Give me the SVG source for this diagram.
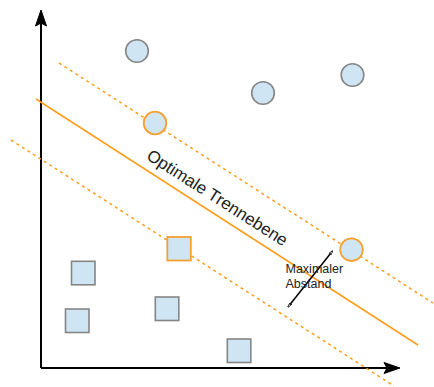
<svg xmlns="http://www.w3.org/2000/svg" width="434" height="387" viewBox="0 0 434 387">
  <defs>
    <style>
      .pt { fill: #cfe5f4; stroke: #858585; stroke-width: 1.6; }
      .sv { fill: #cfe5f4; stroke: #f5a030; stroke-width: 1.8; }
      .margin { fill: none; stroke: #ff9d1c; stroke-width: 1.5; stroke-dasharray: 3 3.5; }
      .plane { fill: none; stroke: #ff9d1c; stroke-width: 1.5; }
      .axis { fill: none; stroke: #000; stroke-width: 2; }
      .lbl { font-family: "Liberation Sans", Arial, sans-serif; fill: #222; }
    </style>
    <marker id="tick" viewBox="0 0 10 6" refX="9" refY="3" markerWidth="5" markerHeight="3" orient="auto-start-reverse" markerUnits="userSpaceOnUse">
      <path d="M0,0 L10,3 L0,6 L3,3 Z" fill="#fff" stroke="#000" stroke-width="1.2"/>
    </marker>
  </defs>

  <!-- axes -->
  <g id="axes">
    <path class="axis" d="M41,368 L41,22"/>
    <path d="M41,10 L35.5,26 L41,23 L46.5,26 Z" fill="#000" stroke="#000" stroke-width="1"/>
    <path class="axis" d="M41,368 L388,368"/>
    <path d="M400,368 L384,362.5 L387,368 L384,373.5 Z" fill="#000" stroke="#000" stroke-width="1"/>
  </g>

  <!-- connectors: separating plane, margins and distance arrow -->
  <g id="connectors">
    <path class="margin" d="M59,63 L433,303"/>
    <path class="plane" d="M36,99 L418,345"/>
    <path class="margin" d="M11,140 L394,386"/>
    <path d="M288,307 L332.5,251" fill="none" stroke="#000" stroke-width="1.5" marker-start="url(#tick)" marker-end="url(#tick)"/>
  </g>

  <!-- class A: circles -->
  <g id="circle-1"><circle class="pt" cx="137" cy="51" r="11.3"/></g>
  <g id="circle-2"><circle class="pt" cx="263" cy="93" r="11.3"/></g>
  <g id="circle-3"><circle class="pt" cx="352.5" cy="75" r="11.3"/></g>
  <g id="circle-sv-1"><circle class="sv" cx="155" cy="123" r="11.3"/></g>
  <g id="circle-sv-2"><circle class="sv" cx="351.5" cy="249.7" r="11.3"/></g>

  <!-- class B: squares -->
  <g id="square-1"><rect class="pt" x="71.5" y="261.3" width="23.5" height="23.5"/></g>
  <g id="square-2"><rect class="pt" x="65.5" y="309" width="23.5" height="23.5"/></g>
  <g id="square-3"><rect class="pt" x="155.3" y="297" width="23.5" height="23.5"/></g>
  <g id="square-4"><rect class="pt" x="227.3" y="339" width="23.5" height="23.5"/></g>
  <g id="square-sv"><rect class="sv" x="167.3" y="237" width="23.5" height="23.5"/></g>

  <!-- labels -->
  <g id="label-plane">
    <text class="lbl" font-size="17" text-anchor="middle" transform="translate(217.5,197.5) rotate(32.7)" y="6">Optimale Trennebene</text>
  </g>
  <g id="label-distance">
    <text class="lbl" font-size="12.5" x="285.5" y="273.3">Maximaler</text>
    <text class="lbl" font-size="12.5" x="285.5" y="287.5">Abstand</text>
  </g>
</svg>
